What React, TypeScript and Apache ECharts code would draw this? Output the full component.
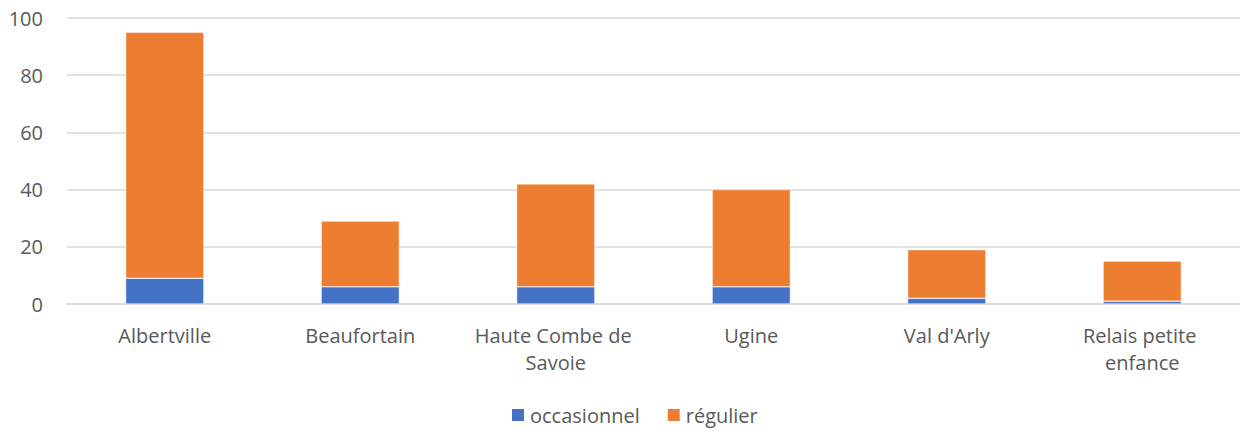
import React, { useEffect, useRef } from "react";
import * as echarts from "echarts";

const categories = ["Albertville", "Beaufortain", "Haute Combe de Savoie", "Ugine", "Val d'Arly", "Relais petite enfance"];
const occasionnel = [9, 6, 6, 6, 2, 1];
const regulier = [86, 23, 36, 34, 17, 14];
const yTicks = { min: 0, max: 100, interval: 20 };

const FONT = "'Open Sans', 'Noto Sans', sans-serif";

export default function App() {
  const ref = useRef<HTMLDivElement>(null);
  useEffect(() => {
    if (!ref.current) return;
    const chart = echarts.init(ref.current, null, { renderer: "svg" });
    chart.setOption({
      animation: false,
      textStyle: { fontFamily: FONT },
      grid: { left: 67, right: 9, top: 18, bottom: 127, containLabel: false },
      legend: {
        top: 400,
        left: 505,
        itemWidth: 14,
        itemHeight: 14,
        itemGap: 26,
        icon: "rect",
        textStyle: { fontSize: 20, color: "#595959", fontFamily: FONT },
        data: ["occasionnel", "régulier"],
      },
      xAxis: {
        type: "category",
        data: categories,
        axisLine: { show: true, lineStyle: { color: "#d9d9d9", width: 1.5 } },
        axisTick: { show: false },
        axisLabel: {
          color: "#595959",
          fontSize: 20,
          margin: 18,
          lineHeight: 27,
          interval: 0,
          width: 180,
          overflow: "break",
          fontFamily: FONT,
        },
      },
      yAxis: {
        type: "value",
        min: yTicks.min,
        max: yTicks.max,
        interval: yTicks.interval,
        axisLine: { show: false },
        axisTick: { show: false },
        splitLine: { lineStyle: { color: "#d9d9d9", width: 1.5 } },
        axisLabel: { color: "#595959", fontSize: 20, margin: 24, fontFamily: FONT },
      },
      series: [
        {
          name: "occasionnel",
          type: "bar",
          stack: "total",
          data: occasionnel,
          barWidth: "40%",
          itemStyle: { color: "#4472c4", borderColor: "#ffffff", borderWidth: 0.5 },
        },
        {
          name: "régulier",
          type: "bar",
          stack: "total",
          data: regulier,
          barWidth: "40%",
          itemStyle: { color: "#ed7d31", borderColor: "#ffffff", borderWidth: 0.5 },
        },
      ],
    });
    return () => chart.dispose();
  }, []);
  return <div ref={ref} style={{ width: 1249, height: 431, position: "absolute", left: 0, top: 0 }} />;
}
